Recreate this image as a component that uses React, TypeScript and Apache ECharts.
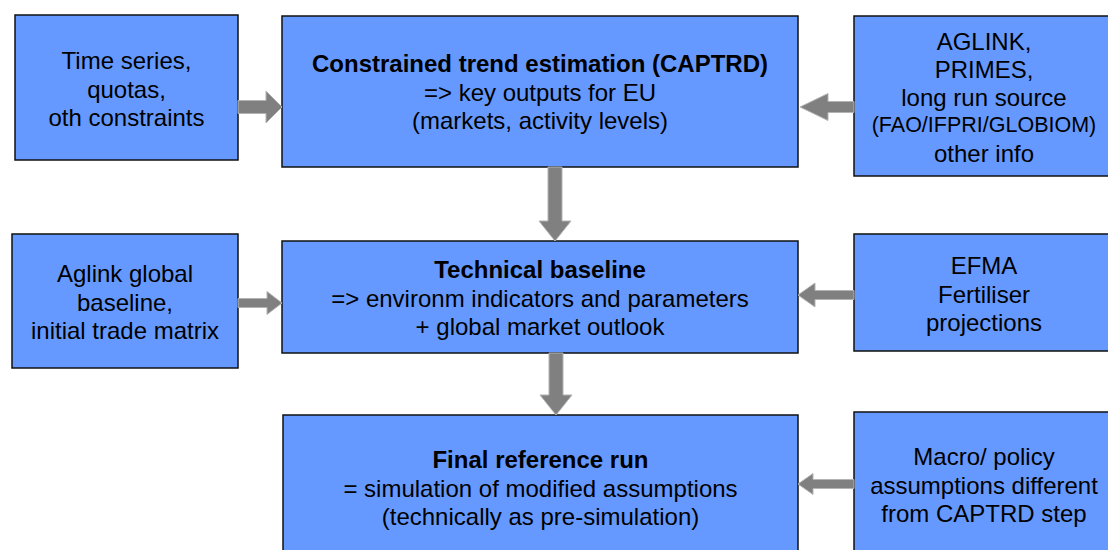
import React, { useEffect, useRef } from "react";
import * as echarts from "echarts";

// ---- content ----
const inputLeftTexts = [
  ["Time series,", "quotas,", "oth constraints"],
  ["Aglink global", "baseline,", "initial trade matrix"],
];
const centerTitles = [
  "Constrained trend estimation (CAPTRD)",
  "Technical baseline",
  "Final reference run",
];
const centerBodies = [
  ["=> key outputs for EU", "(markets, activity levels)"],
  ["=> environm indicators and parameters", "+ global market outlook"],
  ["= simulation of modified assumptions", "(technically as pre-simulation)"],
];
const inputRightTexts = [
  ["AGLINK,", "PRIMES,", "long run source", "(FAO/IFPRI/GLOBIOM)", "other info"],
  ["EFMA", "Fertiliser", "projections"],
  ["Macro/ policy", "assumptions different", "from CAPTRD step"],
];
// lines drawn in a smaller size (index of box, index of line)
const smallLines = [[0, 3]];

// ---- layout ----
const FONT = "'Liberation Sans', Arial, Helvetica, sans-serif";
const FILL = "#6699FF";
const ARROW_FILL = "#808080";
const ARROW_STROKE = "#b3b3b3";

const leftBoxes = [
  { x: 15, y: 15, w: 223, h: 145, cy: 89 },
  { x: 12, y: 234, w: 226, h: 134, cy: 302 },
];
const centerBoxes = [
  { x: 282, y: 16, w: 516, h: 151, cy: 92 },
  { x: 282, y: 241, w: 516, h: 112, cy: 298 },
  { x: 283, y: 415, w: 515, h: 150, cy: 488 },
];
const rightBoxes = [
  { x: 854, y: 16, w: 260, h: 160, cy: 97, lh: 28 },
  { x: 854, y: 234, w: 260, h: 117, cy: 294, lh: 28.5 },
  { x: 854, y: 412, w: 260, h: 150, cy: 485, lh: 28.5 },
];

type HArrow = { x0: number; x1: number; xh: number; y: number; s: number; h: number };
type VArrow = { x: number; y0: number; y1: number; yh: number; s: number; h: number };
const hArrows: HArrow[] = [
  { x0: 238, x1: 282, xh: 266, y: 107, s: 6.5, h: 16 },
  { x0: 854, x1: 800, xh: 828, y: 107, s: 5.5, h: 13.5 },
  { x0: 238, x1: 282, xh: 267, y: 303, s: 4.5, h: 11.5 },
  { x0: 854, x1: 798, xh: 815, y: 295, s: 4.5, h: 12 },
  { x0: 854, x1: 798, xh: 813, y: 484, s: 4.5, h: 10.5 },
];
const vArrows: VArrow[] = [
  { x: 555, y0: 167, y1: 241, yh: 221, s: 7, h: 16 },
  { x: 556, y0: 353, y1: 415, yh: 395, s: 7, h: 16 },
];

function boxRect(b: { x: number; y: number; w: number; h: number }) {
  return {
    type: "rect",
    shape: { x: b.x, y: b.y, width: b.w, height: b.h },
    style: { fill: FILL, stroke: "#111111", lineWidth: 1.5 },
  };
}

function linesText(lines: string[], styles: string[], x: number, y: number, lh = 28.5) {
  const text = lines.map((l, i) => "{" + styles[i] + "|" + l + "}").join("\n");
  return {
    type: "text",
    style: {
      text,
      x,
      y,
      align: "center",
      verticalAlign: "middle",
      fill: "#000",
      fontFamily: FONT,
      fontSize: 24,
      lineHeight: lh,
      rich: {
        b: { fontFamily: FONT, fontSize: 24, fontWeight: "bold", lineHeight: lh, fill: "#000" },
        n: { fontFamily: FONT, fontSize: 24, lineHeight: lh, fill: "#000" },
        s: { fontFamily: FONT, fontSize: 21.5, lineHeight: lh, fill: "#000" },
      },
    },
  };
}

function hArrow(a: HArrow) {
  const { x0, x1, xh, y, s, h } = a;
  return {
    type: "polygon",
    shape: {
      points: [
        [x0, y - s],
        [xh, y - s],
        [xh, y - h],
        [x1, y],
        [xh, y + h],
        [xh, y + s],
        [x0, y + s],
      ],
    },
    style: { fill: ARROW_FILL, stroke: ARROW_STROKE, lineWidth: 1 },
  };
}

function vArrow(a: VArrow) {
  const { x, y0, y1, yh, s, h } = a;
  return {
    type: "polygon",
    shape: {
      points: [
        [x - s, y0],
        [x + s, y0],
        [x + s, yh],
        [x + h, yh],
        [x, y1],
        [x - h, yh],
        [x - s, yh],
      ],
    },
    style: { fill: ARROW_FILL, stroke: ARROW_STROKE, lineWidth: 1 },
  };
}

export default function App() {
  const ref = useRef<HTMLDivElement>(null);
  useEffect(() => {
    if (!ref.current) return;
    const chart = echarts.init(ref.current, undefined, { renderer: "svg" });
    const elements: any[] = [];
    leftBoxes.forEach((b, i) => {
      elements.push(boxRect(b));
      const lines = inputLeftTexts[i];
      elements.push(linesText(lines, lines.map(() => "n"), b.x + b.w / 2, b.cy));
    });
    centerBoxes.forEach((b, i) => {
      elements.push(boxRect(b));
      const lines = [centerTitles[i], ...centerBodies[i]];
      elements.push(
        linesText(lines, lines.map((_, j) => (j === 0 ? "b" : "n")), b.x + b.w / 2, b.cy)
      );
    });
    rightBoxes.forEach((b, i) => {
      elements.push(boxRect(b));
      const lines = inputRightTexts[i];
      const styles = lines.map((_, j) =>
        smallLines.some(([bi, li]) => bi === i && li === j) ? "s" : "n"
      );
      elements.push(linesText(lines, styles, b.x + b.w / 2, b.cy, b.lh));
    });
    hArrows.forEach((a) => elements.push(hArrow(a)));
    vArrows.forEach((a) => elements.push(vArrow(a)));
    chart.setOption({
      animation: false,
      backgroundColor: "#ffffff",
      graphic: { elements },
    });
    return () => chart.dispose();
  }, []);
  return (
    <div
      ref={ref}
      style={{ position: "fixed", left: 0, top: 0, width: 1108, height: 550 }}
    />
  );
}
